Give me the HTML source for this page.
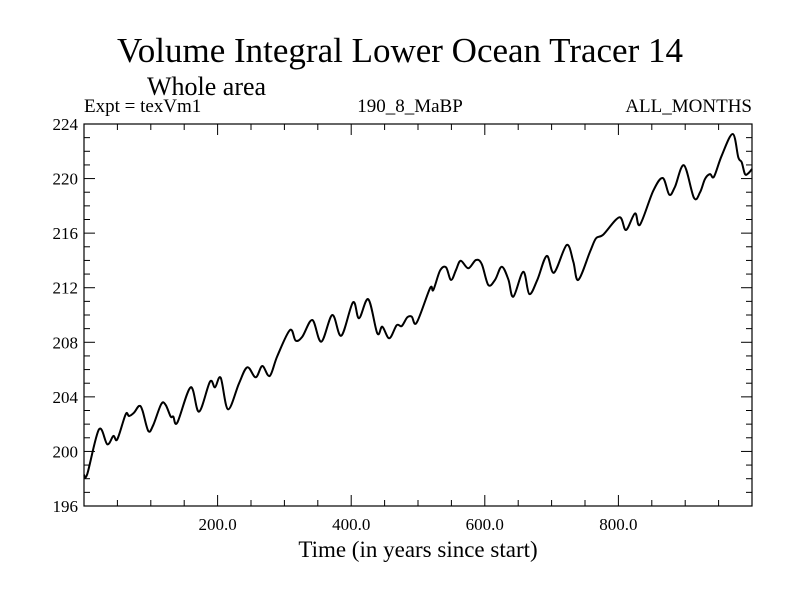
<!DOCTYPE html>
<html><head><meta charset="utf-8"><style>body{margin:0;background:#fff}svg{display:block}text{font-family:"Liberation Serif",serif;fill:#000}</style></head>
<body>
<svg id="chart" width="800" height="600">
<text x="400" y="62" font-size="35" text-anchor="middle">Volume Integral Lower Ocean Tracer 14</text>
<text x="147" y="95" font-size="26">Whole area</text>
<text x="84" y="112" font-size="19">Expt = texVm1</text>
<text x="410" y="112" font-size="19" text-anchor="middle">190_8_MaBP</text>
<text x="752" y="112" font-size="19" text-anchor="end">ALL_MONTHS</text>
<text x="418" y="557" font-size="23" text-anchor="middle">Time (in years since start)</text>
<g id="ticks"></g>
<path id="line" fill="none" stroke="#000" stroke-width="2"/>
<rect x="84" y="124" width="668" height="382" fill="none" stroke="#000" stroke-width="1.2"/>
</svg>
<script>
const years=[0,4.9,22.5,34.9,43.9,49.9,62.4,67.4,74.9,82.3,87.3,96.3,103.7,115.7,122.3,129.8,133.7,139.7,159.7,172.2,188.6,196.1,204.6,215.6,232.0,244.5,257.0,266.9,278.0,289.4,308.4,316.9,326.8,341.8,355.2,371.7,385.2,402.7,411.7,425.6,439.1,446.6,457.0,468.1,475.6,484.0,490.6,498.1,518.0,522.9,532.9,541.9,549.4,556.9,563.9,575.3,586.8,595.4,605.2,615.3,625.3,635.2,642.7,657.6,666.6,678.6,692.7,703.6,722.6,732.5,740.0,757.5,766.5,777.4,801.3,811.4,824.9,832.3,852.2,866.3,876.2,884.7,898.2,913.2,922.2,929.6,937.1,943.1,954.6,971.1,979.5,984.6,989.5,994.5,1000];
const values=[198.27,198.35,201.62,200.52,201.13,200.89,202.72,202.60,202.84,203.33,203.04,201.50,201.94,203.48,203.40,202.55,202.55,202.11,204.70,202.91,205.11,204.70,205.40,203.09,204.99,206.17,205.43,206.26,205.53,206.99,208.90,208.12,208.41,209.63,208.04,210.00,208.48,210.93,209.76,211.15,208.66,209.14,208.29,209.25,209.19,209.83,209.88,209.44,211.96,211.83,213.25,213.50,212.57,213.30,213.98,213.42,214.03,213.74,212.20,212.57,213.54,212.62,211.34,213.17,211.54,212.57,214.33,213.10,215.13,213.91,212.57,214.64,215.62,215.89,217.16,216.23,217.45,216.62,219.11,220.04,218.82,219.40,220.97,218.58,218.99,219.97,220.33,220.14,221.68,223.27,221.56,221.19,220.33,220.39,220.70];
const xTicks=[200,400,600,800];
const xTickLabels=["200.0","400.0","600.0","800.0"];
const yTicks=[196,200,204,208,212,216,220,224];
const yTickLabels=["196","200","204","208","212","216","220","224"];
const X0=84,X1=752,Y0=506,Y1=124,xmin=0,xmax=1000,ymin=196,ymax=224;
const sx=v=>X0+(v-xmin)/(xmax-xmin)*(X1-X0);
const sy=v=>Y0-(v-ymin)/(ymax-ymin)*(Y0-Y1);
const NS="http://www.w3.org/2000/svg";
const svg=document.getElementById('chart'),tg=document.getElementById('ticks');
function ln(x1,y1,x2,y2,name){const l=document.createElementNS(NS,'line');l.setAttribute('x1',x1);l.setAttribute('y1',y1);l.setAttribute('x2',x2);l.setAttribute('y2',y2);l.setAttribute('stroke','#000');l.setAttribute('stroke-width','1');


tg.appendChild(l);}
function tx(x,y,s,anchor,name){const t=document.createElementNS(NS,'text');t.setAttribute('x',x);t.setAttribute('y',y);t.setAttribute('font-size','17');t.setAttribute('text-anchor',anchor);t.textContent=s;


svg.appendChild(t);}
for(let v=xmin+50;v<xmax;v+=50){const major=v%200===0;const L=major?11:6;ln(sx(v),Y0,sx(v),Y0-L,'x-tick');ln(sx(v),Y1,sx(v),Y1+L,'x-tick-top');}
for(let v=ymin+1;v<ymax;v+=1){const major=(v-ymin)%4===0;const L=major?11:6;ln(X0,sy(v),X0+L,sy(v),'y-tick');ln(X1,sy(v),X1-L,sy(v),'y-tick-right');}
xTicks.forEach((v,i)=>tx(sx(v),530,xTickLabels[i],'middle','x-tick-label'));
yTicks.forEach((v,i)=>tx(78,sy(v)+6,yTickLabels[i],'end','y-tick-label'));
const P=years.map((y,i)=>[sx(y),sy(values[i])]);
let d='M'+P[0][0].toFixed(1)+','+P[0][1].toFixed(1);
for(let i=0;i<P.length-1;i++){const p0=P[Math.max(0,i-1)],p1=P[i],p2=P[i+1],p3=P[Math.min(P.length-1,i+2)];
const c1=[p1[0]+(p2[0]-p0[0])/6,p1[1]+(p2[1]-p0[1])/6],c2=[p2[0]-(p3[0]-p1[0])/6,p2[1]-(p3[1]-p1[1])/6];
d+=' C'+c1.map(n=>n.toFixed(1)).join(',')+' '+c2.map(n=>n.toFixed(1)).join(',')+' '+p2.map(n=>n.toFixed(1)).join(',');}
document.getElementById('line').setAttribute('d',d);
</script>
</body></html>
